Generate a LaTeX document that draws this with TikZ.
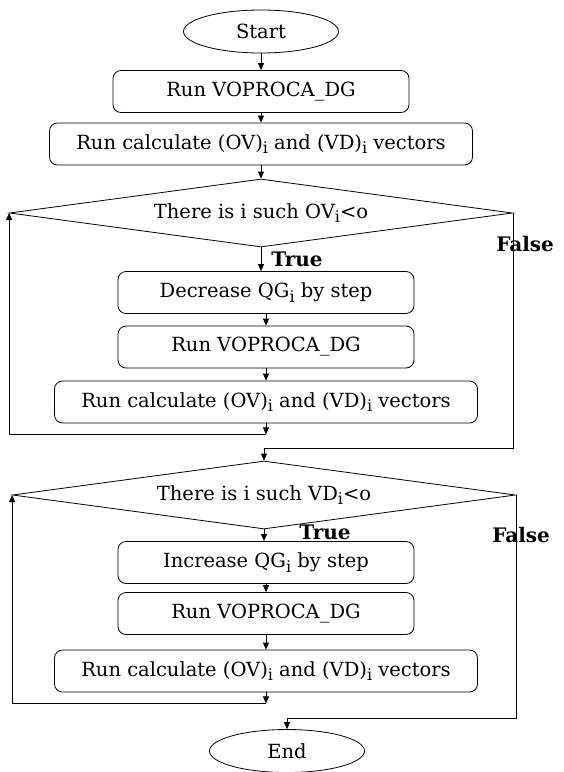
\documentclass[tikz,border=0pt]{standalone}
\usepackage{fontspec}
\setmainfont{DejaVu Serif}
\usetikzlibrary{arrows.meta, shapes.geometric, calc, positioning}
\newcommand{\subi}{\raisebox{-0.45ex}{\fontsize{16pt}{16pt}\selectfont i}}

\begin{document}
\begin{tikzpicture}[x=1pt, y=1pt, node distance=55pt, line width=0.8pt,
  >={Triangle[width=6pt,length=7pt]},
  every node/.style={font=\fontsize{19.5pt}{22pt}\selectfont},
  procbox/.style={draw, rectangle, rounded corners=8pt, minimum width=296pt, minimum height=42pt},
  widebox/.style={procbox, minimum width=423pt},
  decision/.style={draw, diamond, aspect=7.4, minimum width=503pt, minimum height=68pt, inner sep=0pt},
  terminal/.style={draw, ellipse, minimum width=155pt, minimum height=43pt},
  answer/.style={font=\fontsize{20pt}{22pt}\selectfont\bfseries, inner sep=0pt, anchor=west}]
\useasboundingbox (0,0) rectangle (563,-772);

\node (Start) [terminal] at (261,-31.5) {Start};
\node (Run1) [below of=Start, yshift=-5pt, procbox] {Run VOPROCA\_DG};
\node (Calc1) [below of=Run1, yshift=2.5pt, widebox] {Run calculate (OV)\subi{} and (VD)\subi{} vectors};
\node (TestOV) [below of=Calc1, yshift=-14pt, decision] {There is i such OV\subi{}<o};

\node (Dec) [below of=TestOV, yshift=-24.5pt, xshift=5pt, procbox] {Decrease QG\subi{} by step};
\node (Run2) [below of=Dec, yshift=0.5pt, procbox] {Run VOPROCA\_DG};
\node (Calc2) [below of=Run2, widebox] {Run calculate (OV)\subi{} and (VD)\subi{} vectors};
\node (TestVD) [below of=Calc2, yshift=-38pt, xshift=-2pt, decision] {There is i such VD\subi{}<o};

\node (Inc) [below of=TestVD, yshift=-12.5pt, xshift=2pt, procbox] {Increase QG\subi{} by step};
\node (Run3) [below of=Inc, yshift=4pt, procbox] {Run VOPROCA\_DG};
\node (Calc3) [below of=Run3, yshift=-2.5pt, widebox] {Run calculate (OV)\subi{} and (VD)\subi{} vectors};
\node (End) [below of=Calc3, yshift=-25pt, xshift=21pt, terminal] {End};

% yes / no labels
\node (TrueA) [answer] at ($(TestOV.south)+(10,-12)$) {True};
\node (FalseA) [answer] at ($(TestOV.east)+(-17,-31)$) {False};
\node (TrueB) [answer] at ($(TestVD.south)+(35,-3)$) {True};
\node (FalseB) [answer] at ($(TestVD.east)+(-24,-40)$) {False};

\coordinate (LoopA) at ($(Calc2.south)+(0,-11)$);
\coordinate (SkipA) at ($(TestVD.north)+(0,12)$);
\coordinate (LoopB) at ($(Calc3.south)+(0,-11)$);
\coordinate (SkipB) at ($(End.north)+(0,11)$);

\draw[->] (Start) -- (Run1);
\draw[->] (Run1) -- (Calc1);
\draw[->] (Calc1) -- (TestOV);
\draw[->] (TestOV.south) -- (TestOV.south |- Dec.north);
\draw[->] (Dec) -- (Run2);
\draw[->] (Run2) -- (Calc2);
\draw[->] (Calc2) -- (LoopA);
\draw[->] (LoopA) -| (TestOV.west);
\draw[->] (TestOV.east) |- (SkipA) -- (TestVD.north);

\draw[->] (TestVD.south) -- (TestVD.south |- Inc.north);
\draw[->] (Inc) -- (Run3);
\draw[->] (Run3) -- (Calc3);
\draw[->] (Calc3) -- (LoopB);
\draw[->] (LoopB) -| (TestVD.west);
\draw[->] (TestVD.east) |- (SkipB) -- (End.north);
\end{tikzpicture}
\end{document}
